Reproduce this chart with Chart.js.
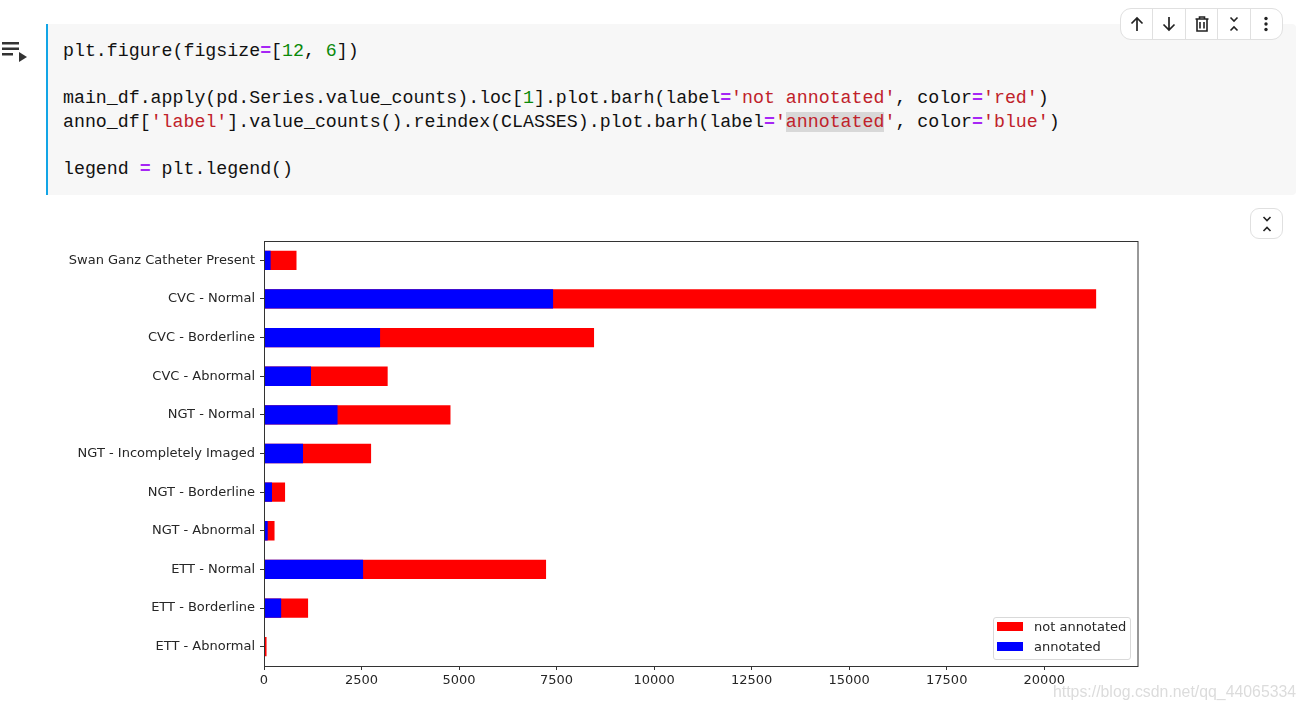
<!DOCTYPE html>
<html>
<head>
<meta charset="utf-8">
<title>barh</title>
<script src="https://cdn.jsdelivr.net/npm/chart.js@4"></script>
<style>
    html, body { margin: 0; padding: 0; background: #fff; width: 1306px; height: 710px; overflow: hidden; }
    .abs { position: absolute; }

    /* celula de codigo */
    #cell { left: 46px; top: 24px; width: 1250px; height: 171px; background: #f7f7f7; border-left: 2px solid #12a5e6;
            box-sizing: border-box; border-radius: 0 4px 4px 0; }
    #code { left: 63px; top: 40px; margin: 0; font: 18.25px/23.5px "Liberation Mono", monospace; color: #111; white-space: pre; }
    .k { color: #a626f5; font-weight: bold; }
    .n { color: #0a8a0a; }
    .s { color: #c0222a; }
    .hl { background: #d8d8d8; }

    #toolbar { left: 1120px; top: 8px; width: 163px; height: 32px; background: #fff; border: 1px solid #e0e0e0;
               border-radius: 11px; box-sizing: border-box; display: flex; }
    #toolbar div { flex: 1; border-right: 1px solid #e0e0e0; display: flex; align-items: center; justify-content: center; }
    #toolbar div:last-child { border-right: none; }
    #expand { left: 1250px; top: 208px; width: 33px; height: 31px; border: 1px solid #e0e0e0; border-radius: 9px;
              box-sizing: border-box; display: flex; align-items: center; justify-content: center; background: #fff; }

    #grafico { left: 0; top: 200px; }

    /* legenda */
    #legenda { left: 993px; top: 617px; width: 138px; height: 43px; box-sizing: border-box; background: #fff;
               border: 1px solid #d9d9d9; border-radius: 3px; font: 13px "DejaVu Sans", sans-serif; color: #262626; }
    #legenda .item { position: absolute; left: 3px; height: 20px; line-height: 18px; white-space: nowrap; }
    #legenda i { position: absolute; left: 0; top: 4px; width: 26px; height: 9px; }
    #legenda span { position: absolute; left: 37px; top: 0; }

    #marca { left: 1053px; top: 683px; font: 15.85px "Liberation Sans", sans-serif; color: #dcdcdc; white-space: nowrap; }
</style>
</head>
<body>

<div id="cell" class="abs"></div>
<pre id="code" class="abs">plt.figure(figsize<span class="k">=</span>[<span class="n">12</span>, <span class="n">6</span>])

main_df.apply(pd.Series.value_counts).loc[<span class="n">1</span>].plot.barh(label<span class="k">=</span><span class="s">'not annotated'</span>, color<span class="k">=</span><span class="s">'red'</span>)
anno_df[<span class="s">'label'</span>].value_counts().reindex(CLASSES).plot.barh(label<span class="k">=</span><span class="s">'<span class="hl">annotated</span>'</span>, color<span class="k">=</span><span class="s">'blue'</span>)

legend <span class="k">=</span> plt.legend()</pre>

<!-- icone de execucao -->
<svg class="abs" style="left:0;top:38px" width="30" height="26">
    <path d="M2 4h17v2.4H2zM2 9.5h17v2.4H2zM2 15h11v2.4H2z" fill="#333"/>
    <path d="M19 14l8 5-8 5z" fill="#333"/>
</svg>

<div id="toolbar" class="abs">
    <div><svg width="18" height="18" fill="none" stroke="#222" stroke-width="1.7"><path d="M9 16V3M3.5 8.5L9 3l5.5 5.5"/></svg></div>
    <div><svg width="18" height="18" fill="none" stroke="#222" stroke-width="1.7"><path d="M9 2v13M3.5 9.5L9 15l5.5-5.5"/></svg></div>
    <div><svg width="18" height="18" fill="none" stroke="#222" stroke-width="1.6"><path d="M2.5 4h13M6.5 4V2h5v2M4 4v12h10V4M7 7v6.5M11 7v6.5"/></svg></div>
    <div><svg width="18" height="18" fill="none" stroke="#222" stroke-width="1.6"><path d="M5.5 2.5L9 6l3.5-3.5M5.5 15.5L9 12l3.5 3.5"/></svg></div>
    <div><svg width="18" height="18" fill="#222"><circle cx="9" cy="3.5" r="1.7"/><circle cx="9" cy="9" r="1.7"/><circle cx="9" cy="14.5" r="1.7"/></svg></div>
</div>

<div id="expand" class="abs">
    <svg width="18" height="20" fill="none" stroke="#222" stroke-width="1.6"><path d="M5.5 3L9 6.5 12.5 3M5.5 17L9 13.5l3.5 3.5"/></svg>
</div>

<canvas id="grafico" class="abs" width="1200" height="510"></canvas>

<div id="legenda" class="abs"></div>

<div id="marca" class="abs">https://blog.csdn.net/qq_44065334</div>

<script>
// ============================================================
//  DADOS
// ============================================================

const categorias = [
    'Swan Ganz Catheter Present', 'CVC - Normal', 'CVC - Borderline', 'CVC - Abnormal',
    'NGT - Normal', 'NGT - Incompletely Imaged', 'NGT - Borderline', 'NGT - Abnormal',
    'ETT - Normal', 'ETT - Borderline', 'ETT - Abnormal'
];
const naoAnotado = [833, 21330, 8460, 3170, 4780, 2745, 540, 270, 7230, 1130, 65];
const anotado = [170, 7410, 2975, 1205, 1885, 1000, 205, 95, 2540, 440, 25];
const rotulos = ['not annotated', 'annotated'];
const cores = ['#ff0000', '#0000ff'];
const ticksX = [0, 2500, 5000, 7500, 10000, 12500, 15000, 17500, 20000];
const maxX = 22390;

// ============================================================
//  MOLDURA DO GRAFICO
// ============================================================

const moldura = {
    id: 'moldura',
    afterDraw(chart) {
        const { ctx, chartArea: a } = chart;
        ctx.save();
        ctx.strokeStyle = '#333';
        ctx.lineWidth = 1;
        ctx.strokeRect(a.left + 0.5, a.top + 0.5, a.right - a.left, a.bottom - a.top);
        ctx.restore();
    }
};

const fonte = { family: '"DejaVu Sans", sans-serif', size: 13 };

// ============================================================
//  GRAFICO
// ============================================================

new Chart(document.getElementById('grafico'), {
    type: 'bar',
    data: {
        labels: categorias,
        datasets: [
            { label: rotulos[0], data: naoAnotado, backgroundColor: cores[0], order: 2 },
            { label: rotulos[1], data: anotado, backgroundColor: cores[1], order: 1 }
        ]
    },
    options: {
        indexAxis: 'y',
        responsive: false,
        animation: false,
        devicePixelRatio: 1,
        grouped: false,
        barPercentage: 0.5,
        categoryPercentage: 1,
        layout: { padding: { top: 41, right: 62.5, left: 0, bottom: 0 } },
        plugins: {
            legend: { display: false },
            title: { display: false },
            tooltip: { enabled: false }
        },
        scales: {
            x: {
                min: 0,
                max: maxX,
                afterFit: s => { s.height = 44; },
                // o passo automatico estica para caber no max, entao os ticks vem da lista
                afterBuildTicks: s => { s.ticks = ticksX.map(v => ({ value: v })); },
                border: { color: '#333' },
                grid: { drawOnChartArea: false, color: '#333', tickLength: 4 },
                ticks: {
                    autoSkip: false,
                    maxRotation: 0,
                    color: '#262626',
                    padding: 3,
                    font: fonte,
                    callback: v => String(v)
                }
            },
            y: {
                afterFit: s => { s.width = 264; },
                border: { color: '#333' },
                grid: { drawOnChartArea: false, color: '#333', tickLength: 4, offset: false },
                ticks: { autoSkip: false, color: '#262626', padding: 5, font: fonte }
            }
        }
    },
    plugins: [moldura]
});

// legenda dentro do grafico, como a do matplotlib
document.getElementById('legenda').innerHTML = rotulos.map((r, i) => `
    <div class="item" style="top:${i * 20 + 0}px">
        <i style="background:${cores[i]}"></i><span>${r}</span>
    </div>
`).join('');
</script>
</body>
</html>
